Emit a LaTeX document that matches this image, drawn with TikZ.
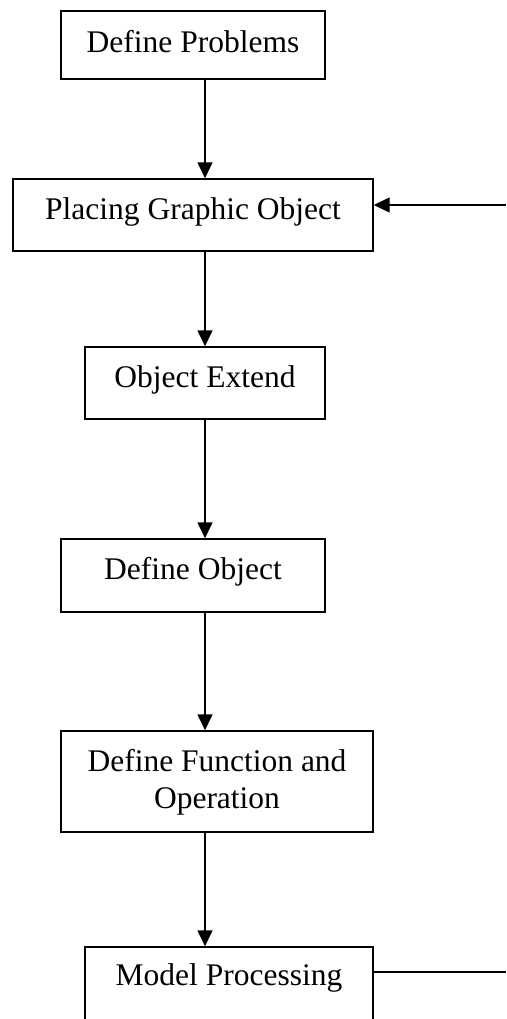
\documentclass[tikz,border=0pt]{standalone}
\usepackage{fontspec}
\setmainfont{Liberation Serif}
\usetikzlibrary{arrows.meta}
\begin{document}
\begin{tikzpicture}[x=1pt,y=-1pt,
  box/.style={draw=black,line width=1.4pt,inner sep=0pt,rectangle},
  lbl/.style={font=\fontsize{31.5}{36.5}\selectfont,inner sep=0pt,align=center,anchor=base},
  flow/.style={line width=1.4pt,-{Triangle[length=16pt,width=15pt]}},
  plain/.style={line width=1.4pt}]
\useasboundingbox (0,0) rectangle (506,1019);
\clip (0,0) rectangle (506,1019);
% boxes
\node[box,minimum width=264pt,minimum height=68pt] (dp) at (193,45) {};
\node[box,minimum width=360pt,minimum height=72pt] (pg) at (193,215) {};
\node[box,minimum width=240pt,minimum height=72pt] (oe) at (205,383) {};
\node[box,minimum width=264pt,minimum height=73pt] (do) at (193,575.5) {};
\node[box,minimum width=312pt,minimum height=101pt] (df) at (217,781.5) {};
\node[box,minimum width=288pt,minimum height=120pt] (mp) at (229,1007) {};
% labels
\node[lbl] (tdp) at (193,53) {Define Problems};
\node[lbl] (tpg) at (193,219) {Placing Graphic Object};
\node[lbl] (toe) at (205,387) {Object Extend};
\node[lbl] (tdo) at (193,579) {Define Object};
\node[lbl,anchor=center] (tdf) at (217,782.5) {Define Function and\\Operation};
\node[lbl] (tmp) at (229,985.5) {Model Processing};
% spine
\coordinate (ax) at (205,0);
\draw[flow] (dp.south -| ax) -- (pg.north -| ax);
\draw[flow] (pg.south -| ax) -- (oe.north -| ax);
\draw[flow] (oe.south -| ax) -- (do.north -| ax);
\draw[flow] (do.south -| ax) -- (df.north -| ax);
\draw[flow] (df.south -| ax) -- (mp.north -| ax);
% feedback ends
\coordinate (fbin) at (506,205);
\coordinate (fbout) at (506,972);
\draw[flow] (fbin) -- (fbin -| pg.east);
\draw[plain] (fbout -| mp.east) -- (fbout);
\end{tikzpicture}
\end{document}
